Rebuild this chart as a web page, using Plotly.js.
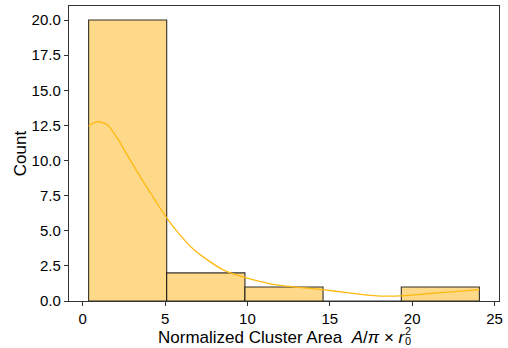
<!DOCTYPE html>
<html>
<head>
<meta charset="utf-8">
<script src="https://cdn.plot.ly/plotly-3.0.1.min.js"></script>
<style>html,body{margin:0;padding:0;background:#fff;}#chart{width:508px;height:348px;}</style>
</head>
<body>
<div id="chart"></div>
<script>
// Histogram bin edges and counts
const binEdges = [0.36, 5.10, 9.85, 14.59, 19.34, 24.08];
const counts = [20, 2, 1, 0, 1];

// KDE curve (x, count-scaled density)
const kdeX = [0.36, 0.70, 0.99, 1.50, 2.15, 2.60, 3.16, 3.65, 4.17, 4.60, 5.08, 5.69, 6.69, 7.70, 8.50, 9.72, 11.33, 12.14, 13.30, 14.56, 16.17, 17.68, 18.50, 19.30, 20.50, 21.72, 23.00, 24.08];
const kdeY = [12.45, 12.70, 12.76, 12.55, 11.5, 10.6, 9.5, 8.55, 7.6, 6.8, 5.96, 5.01, 3.72, 2.82, 2.23, 1.71, 1.24, 1.10, 0.95, 0.81, 0.58, 0.38, 0.34, 0.37, 0.47, 0.60, 0.71, 0.81];

const xTicks = [0, 5, 10, 15, 20, 25];
const yTicks = [0, 2.5, 5, 7.5, 10, 12.5, 15, 17.5, 20];

const centers = [], widths = [];
for (let i = 0; i < counts.length; i++) {
  centers.push((binEdges[i] + binEdges[i + 1]) / 2);
  widths.push(binEdges[i + 1] - binEdges[i]);
}

const FONT = 'Liberation Sans, Arial, sans-serif';

const traces = [
  {
    type: 'bar', x: centers, y: counts, width: widths,
    marker: {color: 'rgb(254,217,138)', line: {color: 'rgba(0,0,0,0.8)', width: 1.1}},
    hoverinfo: 'skip', showlegend: false
  },
  {
    type: 'scatter', mode: 'lines', x: kdeX, y: kdeY,
    line: {color: '#FFB90F', width: 1.3, shape: 'spline', smoothing: 0.6},
    hoverinfo: 'skip', showlegend: false
  }
];

const layout = {
  width: 508, height: 348,
  margin: {l: 69, r: 9, t: 6, b: 47},
  paper_bgcolor: '#fff', plot_bgcolor: '#fff',
  bargap: 0,
  font: {family: FONT, size: 15, color: '#000'},
  xaxis: {
    range: [-0.83, 25.27], tickvals: xTicks, ticktext: xTicks.map(String),
    showgrid: false, zeroline: false, showline: true, mirror: true,
    linecolor: '#333', linewidth: 1.2, ticks: 'outside', ticklen: 4, tickcolor: '#333',
    tickfont: {family: FONT, size: 15, color: '#000'}
  },
  yaxis: {
    range: [0, 21], tickvals: yTicks, ticktext: yTicks.map(v => v.toFixed(1)),
    showgrid: false, zeroline: false, showline: true, mirror: true,
    linecolor: '#333', linewidth: 1.2, ticks: 'outside', ticklen: 4, tickcolor: '#333',
    tickfont: {family: FONT, size: 15, color: '#000'},
    title: {text: 'Count', font: {family: FONT, size: 17, color: '#000'}, standoff: 0}
  },
  annotations: [
    {text: 'Normalized Cluster Area  <i>A</i>/<i>π</i> × <i>r</i>', xref: 'paper', yref: 'paper', x: 0.2047, y: -0.123, xanchor: 'left', yanchor: 'middle', showarrow: false, borderpad: 0, font: {family: FONT, size: 17, color: '#000'}},
    {text: '2', xref: 'paper', yref: 'paper', x: 0.780, y: -0.100, xanchor: 'left', yanchor: 'middle', showarrow: false, borderpad: 0, font: {family: FONT, size: 11, color: '#000'}},
    {text: '0', xref: 'paper', yref: 'paper', x: 0.780, y: -0.112, xanchor: 'left', yanchor: 'top', showarrow: false, borderpad: 0, font: {family: FONT, size: 11, color: '#000'}}
  ]
};

Plotly.newPlot('chart', traces, layout, {displayModeBar: false, staticPlot: true});
</script>
</body>
</html>
